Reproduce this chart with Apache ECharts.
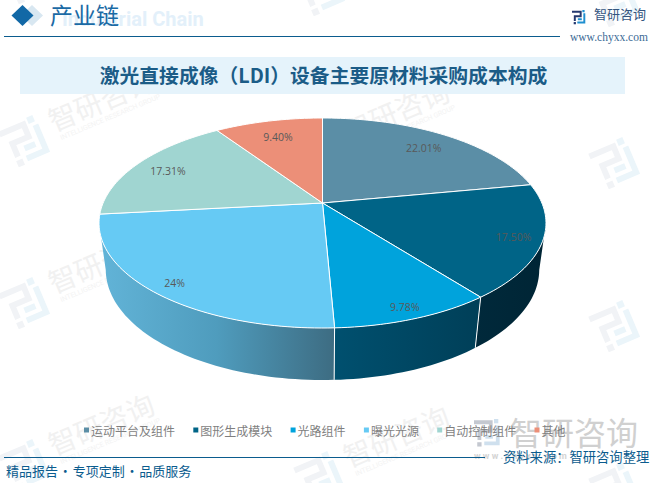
<!DOCTYPE html>
<html>
<head>
<meta charset="utf-8">
<style>
  html, body { margin: 0; padding: 0; background: #fff; }
  #chart { width: 658px; height: 483px; }
</style>
</head>
<body>
<div id="chart"></div>
<script src="https://cdn.jsdelivr.net/npm/echarts@6/dist/echarts.min.js"></script>
<script>
const categories = ["运动平台及组件", "图形生成模块", "光路组件", "曝光光源", "自动控制组件", "其他"];
const shares = [22.01, 17.5, 9.78, 24, 17.31, 9.4];
const shareLabels = ["22.01%", "17.50%", "9.78%", "24%", "17.31%", "9.40%"];
const colors = ["#5b8ea6", "#006487", "#00a3dc", "#66caf4", "#a0d5d1", "#ec8f78"];

const CJK = '"Noto Sans CJK SC", sans-serif';
const BLUE = "#0b5c8e";

// perspective of the tilted disc: apex, scale and foreshortening
const APEX_X = 322.5, APEX_Y = 203, SCALE_X = 219.4, SCALE_Y = 101.2, TILT = 0.1905;
// the bottom rim sits a little further from the camera
const DEPTH_W = 0.03, DEPTH_Y = 47.4;
const TWO_PI = Math.PI * 2;

const total = shares.reduce((a, b) => a + b, 0);
const toAngle = (v) => echarts.number.linearMap(v, [0, total], [0, TWO_PI]);

const project = (theta, r, bottom) => {
  const u = r * Math.sin(theta);
  const v = -r * Math.cos(theta);
  const w = 1 - TILT * v + (bottom ? DEPTH_W : 0);
  return [APEX_X + (SCALE_X * u) / w, APEX_Y + (SCALE_Y * v + (bottom ? DEPTH_Y : 0)) / w];
};

const arc = (from, to, bottom) => {
  const pts = [];
  const steps = Math.max(2, Math.ceil((to - from) * 40));
  for (let i = 0; i <= steps; i++) pts.push(project(from + ((to - from) * i) / steps, 1, bottom));
  return pts;
};

// the wall only shows between the two points where the rim turns back
const WALL_FROM = Math.acos(-TILT);
const WALL_TO = TWO_PI - WALL_FROM;

const wallStops = [
  null,
  [[0, "#00293b"], [1, "#002535"]],
  [[0, "#00506f"], [1, "#003f58"]],
  [[0, "#62b4d8"], [0.5, "#4f9cbd"], [1, "#3d6c82"]],
  null,
  null,
];

const sliceSeries = categories.map((name, idx) => {
  const before = shares.slice(0, idx).reduce((a, b) => a + b, 0);
  const start = toAngle(before);
  const end = toAngle(before + shares[idx]);
  const mid = (start + end) / 2;
  return {
    type: "custom",
    name,
    coordinateSystem: "none",
    z: 3,
    silent: true,
    itemStyle: { color: colors[idx] },
    data: [shares[idx]],
    renderItem: () => {
      const children = [];
      const a = Math.max(start, WALL_FROM);
      const b = Math.min(end, WALL_TO);
      if (wallStops[idx] && b > a) {
        const stops = wallStops[idx].map(([offset, color]) => ({ offset, color }));
        children.push({
          type: "polygon",
          shape: { points: arc(a, b, false).concat(arc(a, b, true).reverse()) },
          style: { fill: new echarts.graphic.LinearGradient(0, 0, 1, 0, stops), stroke: null },
        });
        if (start >= WALL_FROM) {
          children.push({
            type: "polyline",
            shape: { points: [project(start, 1, false), project(start, 1, true)] },
            style: { stroke: "#fff", lineWidth: 1, fill: null },
          });
        }
      }
      children.push({
        type: "polygon",
        shape: { points: [[APEX_X, APEX_Y]].concat(arc(start, end, false)) },
        style: { fill: colors[idx], stroke: "#fff", lineWidth: 1, lineJoin: "round" },
      });
      const [lx, ly] = project(mid, 0.855 - 0.06 * Math.cos(mid), false);
      children.push({
        type: "text",
        x: lx,
        y: ly + 1,
        z2: 10,
        style: {
          text: shareLabels[idx],
          fill: "#595959",
          font: '10.5px "Open Sans", sans-serif',
          align: "center",
          verticalAlign: "middle",
        },
      });
      return { type: "group", children };
    },
  };
});

// company mark, drawn in a box of the given size
const logo = (x, y, s, c1, c2, z) => {
  const pts = (list) => list.map(([a, b]) => [x + a * s, y + b * s]);
  const bar = (list, color) => ({
    type: "polyline",
    z,
    shape: { points: pts(list) },
    style: { stroke: color, lineWidth: s * 0.14, fill: null, lineJoin: "miter" },
  });
  const dot = (a, b, color) => ({
    type: "rect",
    z,
    shape: { x: x + a * s, y: y + b * s, width: s * 0.16, height: s * 0.16 },
    style: { fill: color },
  });
  return [
    bar([[0, 0.12], [0.62, 0.12], [0.62, 0.44], [0.2, 0.44], [0.2, 0.78]], c1),
    dot(0.12, 0.86, c1),
    dot(0.74, 0, c2),
    bar([[0.88, 0.24], [0.88, 0.9], [0.38, 0.9]], c2),
    bar([[0.42, 0.66], [0.7, 0.66]], c2),
  ];
};

// faint tiled watermark: [x, y, with the wordmark]
const waterTiles = [
  [25, -22, false], [25, 141, true], [25, 303, true], [25, 465, true],
  [320, -10, false], [320, 152, true], [320, 315, true], [320, 477, true],
  [615, 1, false], [615, 163, false], [615, 326, false], [615, 488, false],
];

const watermarks = waterTiles.map(([x, y, withText]) => ({
  type: "group",
  x,
  y,
  rotation: 0.4,
  z: 0,
  children: [
    ...logo(-21, -21, 42, "#f1f3f6", "#ebf5fa", 0),
    ...(withText
      ? [
          { type: "text", x: 30, y: -9, z: 0, style: { text: "智研咨询", fill: "#f1f1f1", font: "28px " + CJK, verticalAlign: "middle" } },
          { type: "text", x: 34, y: 8, z: 0, style: { text: "INTELLIGENCE RESEARCH GROUP", fill: "#f3f3f3", font: "7px Roboto, sans-serif" } },
        ]
      : []),
  ],
}));

const chart = echarts.init(document.getElementById("chart"), null, { renderer: "svg" });

chart.setOption({
  animation: false,
  backgroundColor: "#fff",
  title: {
    text: "激光直接成像（LDI）设备主要原材料采购成本构成",
    left: 318.5,
    top: 60,
    textAlign: "center",
    textStyle: { color: "#1b5c87", fontFamily: CJK, fontSize: 19.8, fontWeight: "bold" },
    z: 4,
  },
  legend: {
    data: categories,
    left: 84,
    top: 424,
    itemWidth: 5,
    itemHeight: 5,
    itemGap: 18.3,
    icon: "rect",
    selectedMode: false,
    z: 6,
    padding: 0,
    textStyle: { color: "#7f7f7f", fontFamily: CJK, fontSize: 12, padding: [0, 0, 0, -3] },
  },
  graphic: {
    elements: [
      ...watermarks,
      // big source stamp behind the legend
      ...logo(474, 419, 27, "#c4c8d0", "#cfe0ee", 1),
      { type: "text", x: 510, y: 415, z: 1, style: { text: "智研咨询", fill: "#d0d0d0", font: "32px " + CJK } },
      { type: "text", x: 474, y: 451, z: 1, style: { text: "w w w . c h y x x . c o m", fill: "#d4d4d4", font: "bold 9px Roboto, sans-serif" } },

      // header
      { type: "polygon", z: 2, shape: { points: [[32, 5], [43, 15.5], [32, 26], [21, 15.5]] }, style: { fill: "#d8e7f1" } },
      { type: "polygon", z: 2, shape: { points: [[22.5, 5], [33.5, 15.5], [22.5, 26], [11.5, 15.5]] }, style: { fill: "#1268a6" } },
      { type: "text", x: 62, y: 9, z: 2, style: { text: "Industrial Chain", fill: "#e3f0fa", font: "bold 20px Roboto, sans-serif" } },
      { type: "text", x: 50, y: 2, z: 2, style: { text: "产业链", fill: "#1a6aa5", font: "23px " + CJK } },
      { type: "line", z: 2, shape: { x1: 4, y1: 36.5, x2: 560, y2: 36.5 }, style: { stroke: "#0b5c8e", lineWidth: 1 } },
      ...logo(572, 10, 14, "#24386f", "#1f8fd0", 2),
      { type: "text", x: 594, y: 7, z: 2, style: { text: "智研咨询", fill: "#34557f", font: "13px " + CJK } },
      { type: "text", x: 570, y: 31, z: 2, style: { text: "www.chyxx.com", fill: "#3c6b96", font: "11.5px 'Liberation Serif', serif" } },

      // title band
      { type: "rect", z: 1, shape: { x: 20, y: 57, width: 605, height: 37 }, style: { fill: "#e5f3fb" } },

      // footer
      { type: "line", z: 2, shape: { x1: 4, y1: 457.5, x2: 485, y2: 457.5 }, style: { stroke: "#0b5c8e", lineWidth: 1 } },
      { type: "text", x: 6, y: 464, z: 7, style: { text: "精品报告\u200a·\u200a专项定制\u200a·\u200a品质服务", fill: BLUE, font: "13px " + CJK } },
      { type: "text", x: 503, y: 450, z: 7, style: { text: "资料来源：智研咨询整理", fill: BLUE, font: "13.3px " + CJK } },
    ],
  },
  series: sliceSeries,
});
</script>
</body>
</html>
